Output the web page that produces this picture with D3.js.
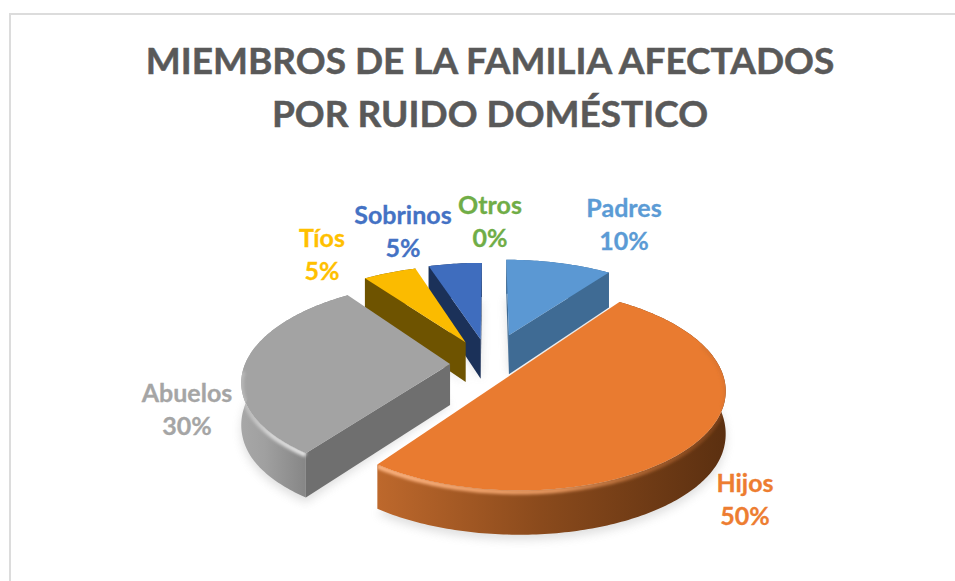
<!DOCTYPE html>
<html><head><meta charset="utf-8">
<script src="https://cdn.jsdelivr.net/npm/d3@7/dist/d3.min.js"></script>
<style>html,body{margin:0;padding:0;background:#fff}svg{display:block}text{font-family:Lato,"Open Sans",sans-serif;font-weight:700;text-anchor:middle;paint-order:stroke}</style>
</head><body><script>
const titleLines = ["MIEMBROS DE LA FAMILIA AFECTADOS", "POR RUIDO DOMÉSTICO"];
const categories = ["Padres", "Hijos", "Abuelos", "Tíos", "Sobrinos", "Otros"];
const shares = [10, 50, 30, 5, 5, 0];
const explosions = [0.33, 0.15, 0.19, 0.26, 0.27, 0];
const topColors = ["#5b98d3", "#e97b30", "#a3a3a3", "#fbbb00", "#3f6dbe", "#70ad47"];
const cutColors = ["#3f6b94", "#a8561f", "#6f6f6f", "#6e5300", "#1b3159", "#4e7831"];
const labelColors = ["#5b9bd5", "#ed7d31", "#a5a5a5", "#ffc000", "#4472c4", "#70ad47"];
const labelX = [624, 745, 187, 322, 403, 490];
const labelY = [217, 492, 402, 247, 224, 214];
const drawOrder = [4, 3, 0, 2, 1];

const W = 955, H = 581, TAU = Math.PI * 2;
const persp = 0.16, depth = 41;
const px = d3.scaleLinear([-1, 1], [489 - 205, 489 + 205]);
const py = d3.scaleLinear([-1, 1], [364 + 96, 364 - 96]);

const svg = d3.select("body").append("svg").attr("width", W).attr("height", H);
const defs = svg.append("defs");
defs.append("filter").attr("id", "soft").attr("x", "-20%").attr("y", "-20%").attr("width", "140%").attr("height", "140%")
  .append("feGaussianBlur").attr("stdDeviation", 5);
defs.append("filter").attr("id", "rim").attr("filterUnits", "userSpaceOnUse").attr("x", 0).attr("y", 0).attr("width", W).attr("height", H)
  .append("feGaussianBlur").attr("stdDeviation", 1.8);
function gradient(id, stops) {
  const g = defs.append("linearGradient").attr("id", id).attr("gradientUnits", "userSpaceOnUse")
    .attr("x1", 235).attr("x2", 730).attr("y1", 0).attr("y2", 0);
  stops.forEach(([o, c, a]) => g.append("stop").attr("offset", o).attr("stop-color", c).attr("stop-opacity", a === undefined ? 1 : a));
}
gradient("wallOrange", [[0.29, "#bd682c"], [0.62, "#8a4a1c"], [1, "#5a2f10"]]);
gradient("wallGray", [[0, "#a9a9a9"], [0.06, "#a0a0a0"], [0.15, "#848484"]]);
gradient("rimOrange", [[0.3, "#fbb27f", 1], [0.65, "#f4a268", 0.85], [0.97, "#c46a2c", 0.3]]);
gradient("rimGray", [[0.01, "#d0d0d0", 0.4], [0.07, "#dcdcdc", 0.9], [0.15, "#e6e6e6", 1]]);

// outer chart frame
svg.append("path").attr("d", "M10,581V14H955").attr("fill", "none").attr("stroke", "#dcdcdc").attr("stroke-width", 2);

// title
svg.selectAll("text.title").data(titleLines).join("text").attr("class", "title")
  .attr("x", 490).attr("y", (d, i) => 74 + i * 53).attr("font-size", 37).attr("fill", "#595959")
  .attr("stroke", "#595959").attr("stroke-width", 0.5).text(d => d);

const pie = d3.pie().sort(null).value(d => d).startAngle(0).endAngle(TAU);
const arcs = pie(shares);

function project(i, angle, radius, drop) {
  const bis = (arcs[i].startAngle + arcs[i].endAngle) / 2, e = explosions[i];
  const X = e * Math.sin(bis) + radius * Math.sin(angle);
  const V = e * Math.cos(bis) + radius * Math.cos(angle);
  const s = 1 / (1 + persp * V);
  const sy = py(V * s) + (drop ? depth * Math.min(s, 1.08) : 0);
  return [px(X * s), sy];
}
const line = d3.line();
function rim(i, a0, a1, drop) {
  const n = Math.max(2, Math.ceil((a1 - a0) * 60));
  return d3.range(n + 1).map(k => project(i, a0 + (a1 - a0) * k / n, 1, drop));
}
const wallFill = i => i === 1 ? "url(#wallOrange)" : i === 2 ? "url(#wallGray)" : cutColors[i];

// soft ground shadows
const shadows = svg.append("g").attr("filter", "url(#soft)").attr("opacity", 0.28);
drawOrder.forEach(i => {
  const a = arcs[i], pts = rim(i, a.startAngle, a.endAngle, true).map(p => [p[0], p[1] + 5]);
  const apex = project(i, 0, 0, true);
  shadows.append("path").attr("d", line([apex, ...pts]) + "Z").attr("fill", "#8c8c8c");
});

drawOrder.forEach(i => {
  const a = arcs[i], g = svg.append("g").attr("class", "slice");
  const top = rim(i, a.startAngle, a.endAngle, false);
  const bottom = rim(i, a.startAngle, a.endAngle, true);
  const apexT = project(i, 0, 0, false), apexB = project(i, 0, 0, true);

  g.append("path").attr("d", line([...top, ...bottom.slice().reverse()]) + "Z").attr("fill", wallFill(i));

  // cut faces: only those that turn towards the viewer
  const faceAt = (pTop, pBot) => [apexT, pTop, pBot, apexB];
  const startFace = faceAt(top[0], bottom[0]);
  const endFace = faceAt(top[top.length - 1], bottom[bottom.length - 1]);
  const area = f => f.reduce((s, p, k) => { const q = f[(k + 1) % f.length]; return s + p[0] * q[1] - q[0] * p[1]; }, 0);
  if (area(endFace) > 0) g.append("path").attr("d", line(endFace) + "Z").attr("fill", cutColors[i]);
  if (area(startFace) < 0) g.append("path").attr("d", line(startFace) + "Z").attr("fill", cutColors[i]);

  g.append("path").attr("d", line([apexT, ...top]) + "Z").attr("fill", topColors[i]);

  // bevel highlight along the front rim of the big slices
  if (shares[i] >= 30) {
    const f0 = Math.max(a.startAngle, TAU * 0.2), f1 = Math.min(a.endAngle, TAU * 0.74);
    const bevel = rim(i, f0, f1, false);
    const clipId = "clip" + i;
    defs.append("clipPath").attr("id", clipId).append("path")
      .attr("d", line([apexT, ...top, ...bottom.slice().reverse()]) + "Z");
    g.append("path").attr("d", line(bevel.map(p => [p[0], p[1] + 1.5]))).attr("fill", "none")
      .attr("stroke", i === 1 ? "url(#rimOrange)" : "url(#rimGray)").attr("stroke-width", 5)
      .attr("filter", "url(#rim)").attr("clip-path", `url(#${clipId})`);
  }
});

// data labels
const labels = svg.selectAll("g.label").data(categories).join("g").attr("class", "label")
  .attr("fill", (d, i) => labelColors[i]).attr("stroke", (d, i) => labelColors[i]).attr("stroke-width", 0.3);
labels.append("text").attr("x", (d, i) => labelX[i]).attr("y", (d, i) => labelY[i]).attr("font-size", 25).text(d => d);
labels.append("text").attr("x", (d, i) => labelX[i]).attr("y", (d, i) => labelY[i] + 33).attr("font-size", 25).text((d, i) => shares[i] + "%");
</script></body></html>
